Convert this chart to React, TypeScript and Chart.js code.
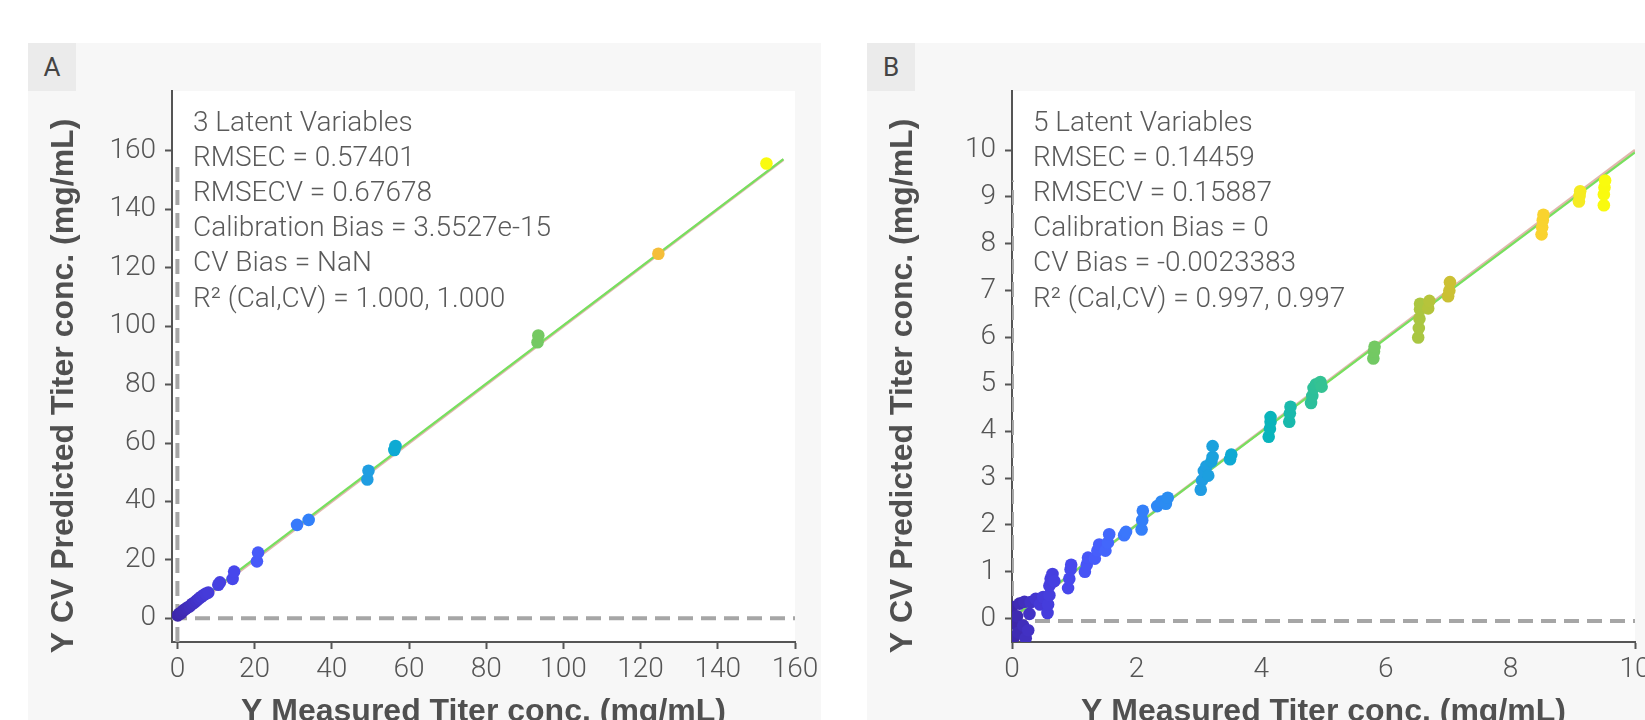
import React, { useEffect, useRef } from "react";
import { Chart, registerables } from "chart.js";

Chart.register(...registerables);

// ---------- Panel A: 3 latent variables ----------
const measuredA = [
  0.1, 0.5, 1.0, 1.5, 2.0, 2.6, 3.2, 3.8, 4.4, 5.0, 5.6, 6.2, 6.8, 7.4, 8.0,
  10.6, 11.0, 14.3, 14.7, 20.6, 20.9, 31.0, 34.0, 49.2, 49.5, 56.2, 56.5,
  93.3, 93.5, 124.6, 152.6,
];
const predictedA = [
  1.0, 1.6, 1.8, 2.7, 3.1, 3.7, 4.1, 4.9, 5.4, 6.1, 6.8, 7.4, 8.0, 8.5, 8.8,
  11.5, 12.3, 13.5, 16.0, 19.5, 22.5, 32.0, 33.7, 47.5, 50.5, 57.6, 59.0,
  94.5, 96.8, 124.8, 155.7,
];
const xTicksA = [0, 20, 40, 60, 80, 100, 120, 140, 160];
const yTicksA = [0, 20, 40, 60, 80, 100, 120, 140, 160];
const lineXA = [0, 157];
const fitYA = [0.5, 157.2];
const statsA = [
  "3 Latent Variables",
  "RMSEC = 0.57401",
  "RMSECV = 0.67678",
  "Calibration Bias = 3.5527e-15",
  "CV Bias = NaN",
  "R\u00B2 (Cal,CV) = 1.000, 1.000",
];

// ---------- Panel B: 5 latent variables ----------
const measuredB = [
  0.0, 0.02, 0.03, 0.08, 0.1, 0.12, 0.18, 0.2, 0.22, 0.26, 0.28,
  0.3, 0.38, 0.45, 0.5,
  0.57, 0.58, 0.6, 0.6, 0.62, 0.65, 0.68,
  0.9, 0.92, 0.94, 0.95,
  1.17, 1.2, 1.22,
  1.33, 1.37, 1.4,
  1.5, 1.54, 1.56,
  1.8, 1.83,
  2.08, 2.09, 2.1,
  2.33, 2.4, 2.47, 2.5,
  3.03, 3.05, 3.08, 3.12, 3.15, 3.2, 3.22, 3.22,
  3.5, 3.52,
  4.12, 4.14, 4.15, 4.15,
  4.45, 4.46, 4.47,
  4.8, 4.82, 4.84, 4.88, 4.95, 4.97,
  5.8, 5.81, 5.82,
  6.52, 6.53, 6.54, 6.55, 6.55,
  6.68, 6.7,
  7.0, 7.02, 7.03,
  8.5, 8.51, 8.52, 8.53,
  9.1, 9.11, 9.12,
  9.5, 9.5, 9.51, 9.52,
];
const predictedB = [
  0.25, -0.1, -0.4, 0.05, -0.3, 0.32, -0.15, 0.36, -0.42, -0.25, 0.1,
  0.35, 0.42, 0.3, 0.46,
  0.12, 0.3, 0.5, 0.7, 0.85, 0.95, 0.8,
  0.65, 0.85, 1.05, 1.15,
  1.0, 1.15, 1.3,
  1.28, 1.45, 1.58,
  1.45, 1.62, 1.8,
  1.78, 1.85,
  1.9, 2.1, 2.3,
  2.4, 2.5, 2.45, 2.58,
  2.75, 2.95, 3.15, 3.25, 3.05, 3.35, 3.45, 3.68,
  3.4, 3.5,
  3.88, 4.05, 4.2, 4.3,
  4.2, 4.38, 4.52,
  4.6, 4.75, 4.92, 5.0, 5.05, 4.95,
  5.55, 5.7, 5.8,
  6.0, 6.2, 6.4, 6.6, 6.72,
  6.62, 6.78,
  6.88, 7.0, 7.18,
  8.2, 8.35, 8.5, 8.62,
  8.9, 9.02, 9.12,
  8.82, 9.05, 9.2, 9.35,
];
const xTicksB = [0, 2, 4, 6, 8, 10];
const yTicksB = [0, 1, 2, 3, 4, 5, 6, 7, 8, 9, 10];
const lineXB = [0, 10];
const fitYB = [0.01, 9.95];
const statsB = [
  "5 Latent Variables",
  "RMSEC = 0.14459",
  "RMSECV = 0.15887",
  "Calibration Bias = 0",
  "CV Bias = -0.0023383",
  "R\u00B2 (Cal,CV) = 0.997, 0.997",
];

const X_TITLE = "Y Measured Titer conc. (mg/mL)";
const Y_TITLE = "Y CV Predicted Titer conc. (mg/mL)";

// Parula colour map anchors (position, r, g, b)
const PARULA: number[][] = [
  [0 / 63, 0.2422, 0.1504, 0.6603],
  [3 / 63, 0.2691, 0.2253, 0.8411],
  [6 / 63, 0.2803, 0.2782, 0.9221],
  [9 / 63, 0.2788, 0.3658, 0.9858],
  [12 / 63, 0.235, 0.4626, 0.9898],
  [15 / 63, 0.1802, 0.5217, 0.9686],
  [18 / 63, 0.1592, 0.5803, 0.9236],
  [21 / 63, 0.1119, 0.6274, 0.8708],
  [24 / 63, 0.0376, 0.6758, 0.8161],
  [27 / 63, 0.0265, 0.7025, 0.7445],
  [30 / 63, 0.1144, 0.7314, 0.6609],
  [33 / 63, 0.2105, 0.7616, 0.5728],
  [36 / 63, 0.3319, 0.7799, 0.4744],
  [39 / 63, 0.478, 0.7911, 0.3705],
  [42 / 63, 0.6142, 0.7864, 0.2836],
  [45 / 63, 0.74, 0.7618, 0.2145],
  [48 / 63, 0.8578, 0.7408, 0.1919],
  [51 / 63, 0.953, 0.7399, 0.2281],
  [54 / 63, 0.9935, 0.7745, 0.2063],
  [57 / 63, 0.9745, 0.8414, 0.1766],
  [60 / 63, 0.9599, 0.9149, 0.1427],
  [63 / 63, 0.9763, 0.9831, 0.0538],
];

function parula(t: number): string {
  const v = Math.min(1, Math.max(0, t));
  for (let i = 1; i < PARULA.length; i++) {
    const a = PARULA[i - 1];
    const b = PARULA[i];
    if (v <= b[0]) {
      const f = (v - a[0]) / (b[0] - a[0]);
      const c = [1, 2, 3].map((k) => Math.round((a[k] + (b[k] - a[k]) * f) * 255));
      return `rgb(${c[0]},${c[1]},${c[2]})`;
    }
  }
  return "rgb(249,251,14)";
}

const TEXT_FAMILY = 'Roboto, "Liberation Sans", Arial, sans-serif';
const TITLE_FAMILY = '"Liberation Sans", Arial, sans-serif';
const AXIS_COLOR = "#555555";

interface PanelSpec {
  left: number;
  top: number;
  width: number;
  height: number;
  areaLeft: number;
  areaTop: number;
  areaRight: number;
  areaBottom: number;
  xMin: number;
  xMax: number;
  yMin: number;
  yMax: number;
  measured: number[];
  predicted: number[];
  xTicks: number[];
  yTicks: number[];
  lineX: number[];
  fitY: number[];
  zeroY: number;
  stats: string[];
  xEndTicksOnly: boolean;
}

function buildConfig(p: PanelSpec): any {
  const maxMeasured = Math.max(...p.measured);
  const maxPredicted = Math.max(...p.predicted);
  const points = p.measured.map((x, i) => ({ x, y: p.predicted[i] }));
  const colors = p.measured.map((x) => parula(x / maxMeasured));

  const decor = {
    id: "panelDecor",
    beforeDraw(chart: any) {
      const { ctx, chartArea: a } = chart;
      ctx.save();
      ctx.fillStyle = "#ffffff";
      ctx.fillRect(a.left, a.top, a.right - a.left, a.bottom - a.top);
      ctx.restore();
    },
    afterDraw(chart: any) {
      const { ctx, chartArea: a } = chart;
      ctx.save();
      ctx.fillStyle = "#5a5a5a";
      ctx.font = `300 28px ${TEXT_FAMILY}`;
      ctx.textAlign = "left";
      ctx.textBaseline = "alphabetic";
      p.stats.forEach((s, i) => {
        ctx.fillText(s, a.left + 21, a.top + 39.5 + i * 35.2);
      });

      ctx.fillStyle = "#505050";
      ctx.font = `bold 32px ${TITLE_FAMILY}`;
      ctx.textAlign = "center";
      ctx.fillText(X_TITLE, (a.left + a.right) / 2, 678);

      ctx.translate(36, 343);
      ctx.rotate(-Math.PI / 2);
      ctx.textBaseline = "middle";
      ctx.fillText(Y_TITLE, 0, 0);
      ctx.restore();
    },
  };

  const tickFont = { family: TEXT_FAMILY, size: 28, weight: 300 };

  return {
    type: "scatter",
    data: {
      datasets: [
        {
          label: "samples",
          data: points,
          backgroundColor: colors,
          pointBackgroundColor: colors,
          pointRadius: 6.3,
          pointBorderWidth: 0,
          borderWidth: 0,
          order: 0,
        },
        {
          label: "fit",
          data: p.lineX.map((x, i) => ({ x, y: p.fitY[i] })),
          showLine: true,
          borderColor: "#76e05e",
          borderWidth: 2.2,
          pointRadius: 0,
          order: 1,
        },
        {
          label: "target",
          data: p.lineX.map((x) => ({ x, y: x })),
          showLine: true,
          borderColor: "rgba(196,110,90,0.5)",
          borderWidth: 2.8,
          pointRadius: 0,
          order: 2,
        },
        {
          label: "zero-y",
          data: [
            { x: p.xMin, y: p.zeroY },
            { x: p.xMax, y: p.zeroY },
          ],
          showLine: true,
          borderColor: "#a6a6a6",
          borderWidth: 4,
          borderDash: [15, 8],
          pointRadius: 0,
          order: 3,
        },
        {
          label: "zero-x",
          data: [
            { x: 0, y: p.yMin },
            { x: 0, y: maxPredicted },
          ],
          showLine: true,
          borderColor: "#a6a6a6",
          borderWidth: 4,
          borderDash: [15, 8],
          pointRadius: 0,
          order: 3,
        },
      ],
    },
    options: {
      responsive: false,
      animation: false,
      devicePixelRatio: 1,
      layout: {
        padding: {
          left: 0,
          top: p.areaTop,
          right: p.width - p.areaRight,
          bottom: 0,
        },
      },
      plugins: {
        legend: { display: false },
        tooltip: { enabled: false },
        title: { display: false },
      },
      scales: {
        x: {
          type: "linear",
          min: p.xMin,
          max: p.xMax,
          afterBuildTicks: (s: any) => {
            s.ticks = p.xTicks.map((v) => ({ value: v }));
          },
          afterFit: (s: any) => {
            s.height = p.height - p.areaBottom;
            s.paddingLeft = 0;
            s.paddingRight = 0;
          },
          border: { display: true, color: AXIS_COLOR, width: 2 },
          grid: {
            drawOnChartArea: false,
            drawTicks: true,
            tickLength: 7,
            tickWidth: 2,
            color: AXIS_COLOR,
            tickColor: (ctx: any) => {
              if (!p.xEndTicksOnly) return AXIS_COLOR;
              const v = ctx.tick ? ctx.tick.value : 0;
              return v === p.xTicks[0] || v === p.xTicks[p.xTicks.length - 1]
                ? AXIS_COLOR
                : "rgba(0,0,0,0)";
            },
          },
          ticks: {
            font: tickFont,
            color: AXIS_COLOR,
            padding: 4,
            maxRotation: 0,
            minRotation: 0,
            autoSkip: false,
            callback: (v: any) => String(v),
          },
        },
        y: {
          type: "linear",
          min: p.yMin,
          max: p.yMax,
          afterBuildTicks: (s: any) => {
            s.ticks = p.yTicks.map((v) => ({ value: v }));
          },
          afterFit: (s: any) => {
            s.width = p.areaLeft;
            s.paddingTop = 0;
            s.paddingBottom = 0;
          },
          border: { display: true, color: AXIS_COLOR, width: 2 },
          grid: {
            drawOnChartArea: false,
            drawTicks: true,
            tickLength: 7,
            tickWidth: 2,
            color: AXIS_COLOR,
            tickColor: AXIS_COLOR,
          },
          ticks: {
            font: tickFont,
            color: AXIS_COLOR,
            padding: 9,
            autoSkip: false,
            callback: (v: any) => String(v),
          },
        },
      },
    },
    plugins: [decor],
  };
}

function Panel({ spec, letter }: { spec: PanelSpec; letter: string }) {
  const ref = useRef<HTMLCanvasElement>(null);
  useEffect(() => {
    if (!ref.current) return;
    const chart = new Chart(ref.current, buildConfig(spec));
    return () => chart.destroy();
  }, [spec]);
  return (
    <>
      <div
        style={{
          position: "absolute",
          left: spec.left,
          top: spec.top,
          width: spec.width,
          height: spec.height,
          background: "#f7f7f7",
        }}
      />
      <div
        style={{
          position: "absolute",
          left: spec.left,
          top: spec.top,
          width: 48,
          height: 48,
          background: "#ebebeb",
          color: "#444",
          font: `400 26px ${TEXT_FAMILY}`,
          display: "flex",
          alignItems: "center",
          justifyContent: "center",
        }}
      >
        {letter}
      </div>
      <canvas
        ref={ref}
        width={spec.width}
        height={spec.height}
        style={{
          position: "absolute",
          left: spec.left,
          top: spec.top,
          width: spec.width,
          height: spec.height,
        }}
      />
    </>
  );
}

const panelA: PanelSpec = {
  left: 28,
  top: 43,
  width: 793,
  height: 677,
  areaLeft: 144,
  areaTop: 48,
  areaRight: 767,
  areaBottom: 599,
  xMin: -1.4,
  xMax: 160,
  yMin: -8.1,
  yMax: 180.5,
  measured: measuredA,
  predicted: predictedA,
  xTicks: xTicksA,
  yTicks: yTicksA,
  lineX: lineXA,
  fitY: fitYA,
  zeroY: 0,
  stats: statsA,
  xEndTicksOnly: false,
};

const panelB: PanelSpec = {
  left: 867,
  top: 43,
  width: 778,
  height: 677,
  areaLeft: 145,
  areaTop: 48,
  areaRight: 768,
  areaBottom: 599,
  xMin: 0,
  xMax: 10,
  yMin: -0.5,
  yMax: 11.26,
  measured: measuredB,
  predicted: predictedB,
  xTicks: xTicksB,
  yTicks: yTicksB,
  lineX: lineXB,
  fitY: fitYB,
  zeroY: -0.05,
  stats: statsB,
  xEndTicksOnly: true,
};

export default function App() {
  return (
    <div
      style={{
        position: "absolute",
        left: 0,
        top: 0,
        width: 1645,
        height: 720,
        overflow: "hidden",
        background: "#ffffff",
      }}
    >
      <Panel spec={panelA} letter="A" />
      <Panel spec={panelB} letter="B" />
    </div>
  );
}
